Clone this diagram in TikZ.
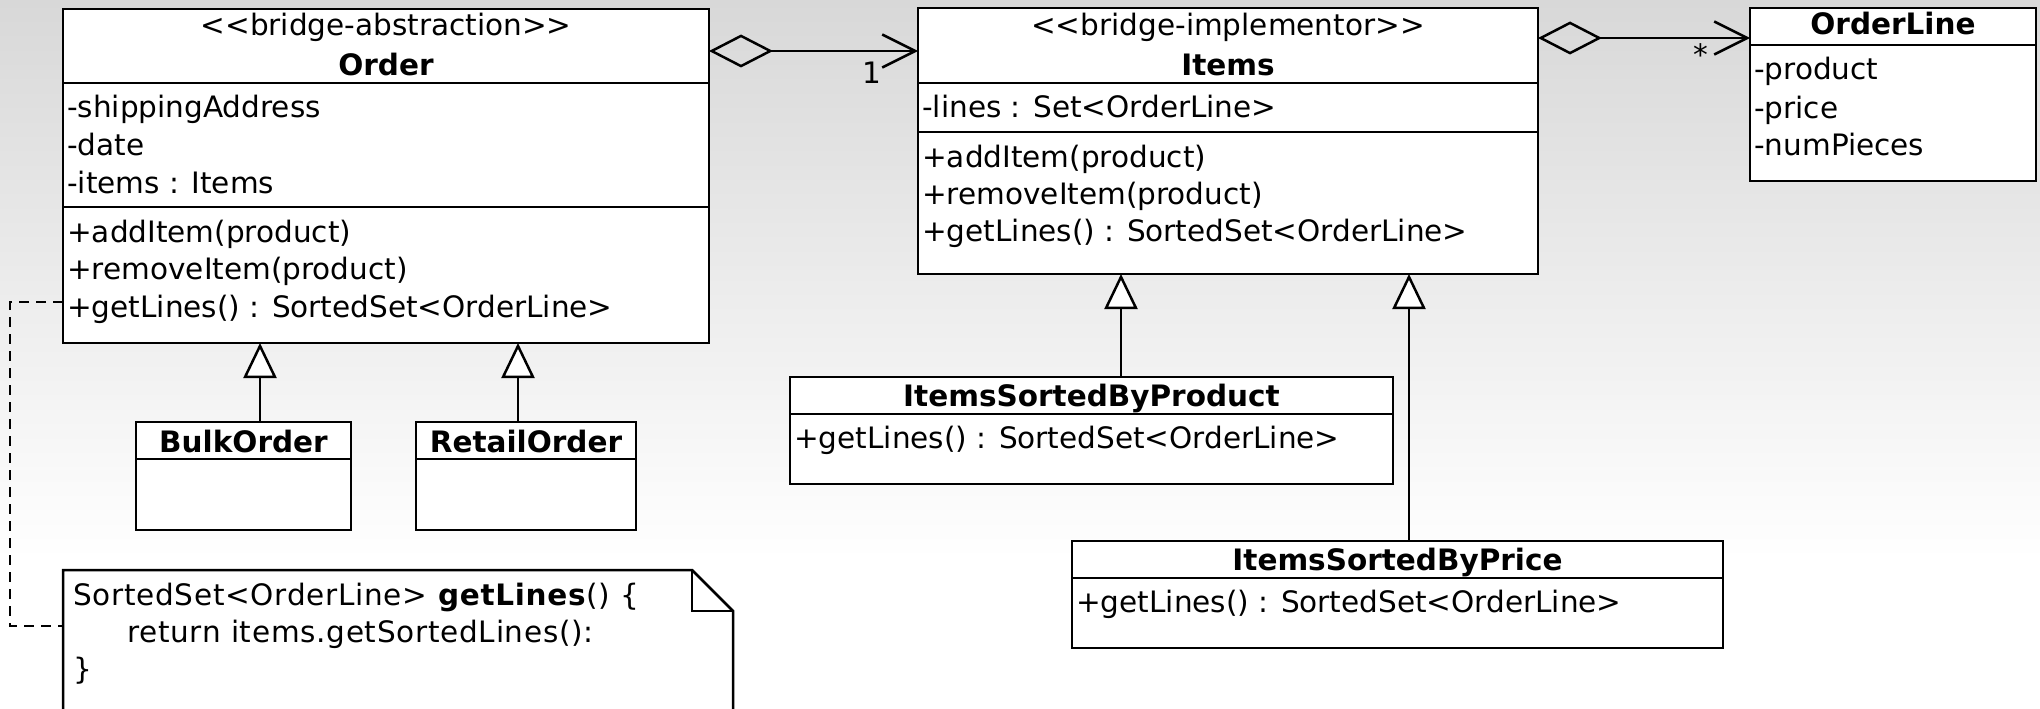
\documentclass[tikz,border=0pt]{standalone}
\usepackage{fontspec}
\setmainfont{DejaVu Sans}
\usetikzlibrary{arrows.meta}
\definecolor{bgtop}{RGB}{216,216,216}
\begin{document}
\begin{tikzpicture}[x=1pt,y=-1pt,line width=2.5pt,
  font=\fontsize{29.5}{36}\selectfont,
  cls/.style={draw=black,fill=white,line width=2.5pt,inner sep=0pt,outer sep=0pt,anchor=north west},
  lbl/.style={anchor=base west,inner sep=0pt},
  ster/.style={anchor=base,inner sep=0pt},
  ttl/.style={anchor=base,inner sep=0pt,font=\fontsize{29.5}{36}\selectfont\bfseries},
  code/.style={anchor=base west,inner sep=0pt,font=\fontsize{29.5}{36}\selectfont\addfontfeature{LetterSpace=2.4}},
  aggr/.style={{Diamond[open,length=64pt,width=33pt]}-{Straight Barb[length=33pt,width=33pt]}},
  gen/.style={-{Triangle[fill=white,length=35pt,width=33pt]}},
  notelink/.style={dash pattern=on 10pt off 7pt}]
\useasboundingbox (0,0) rectangle (2040,709);
\clip (0,0) rectangle (2040,709);
% background
\fill[white] (0,0) rectangle (2040,709);
\shade[top color=bgtop,bottom color=white] (0,0) rectangle (2040,560);

% Order
\node[cls,minimum width=646pt,minimum height=334pt] (order) at (63,9) {};
\draw (order.west |- 0,83) -- (order.east |- 0,83);
\draw (order.west |- 0,207) -- (order.east |- 0,207);
\node[ster] (orderS) at (order.north |- 0,36) {<{}<bridge-abstraction>{}>};
\node[ttl] (orderT) at (order.north |- 0,75) {Order};
\node[lbl] (o1) at (66,117) {-shippingAddress};
\node[lbl] (o2) at (66,155) {-date};
\node[lbl] (o3) at (66,193) {-items : Items};
\node[lbl] (o4) at (66,242) {+addItem(product)};
\node[lbl] (o5) at (66,279) {+removeItem(product)};
\node[lbl] (o6) at (66,317) {+getLines() : SortedSet<OrderLine>};

% Items
\node[cls,minimum width=620pt,minimum height=266pt] (items) at (918,8) {};
\draw (items.west |- 0,83) -- (items.east |- 0,83);
\draw (items.west |- 0,132) -- (items.east |- 0,132);
\node[ster] (itemsS) at (items.north |- 0,36) {<{}<bridge-implementor>{}>};
\node[ttl] (itemsT) at (items.north |- 0,75) {Items};
\node[lbl] (i1) at (921,117) {-lines : Set<OrderLine>};
\node[lbl] (i2) at (921,167) {+addItem(product)};
\node[lbl] (i3) at (921,204) {+removeItem(product)};
\node[lbl] (i4) at (921,241) {+getLines() : SortedSet<OrderLine>};

% OrderLine
\node[cls,minimum width=286pt,minimum height=173pt] (oline) at (1750,8) {};
\draw (oline.west |- 0,45) -- (oline.east |- 0,45);
\node[ttl] (olineT) at (oline.north |- 0,35) {OrderLine};
\node[lbl] (l1) at (1753,80) {-product};
\node[lbl] (l2) at (1753,118) {-price};
\node[lbl] (l3) at (1753,155) {-numPieces};

% BulkOrder and RetailOrder
\node[cls,minimum width=215pt,minimum height=108pt] (bulk) at (136,422) {};
\draw (bulk.west |- 0,459) -- (bulk.east |- 0,459);
\node[ttl] (bulkT) at (bulk.north |- 0,452) {BulkOrder};
\node[cls,minimum width=220pt,minimum height=108pt] (retail) at (416,422) {};
\draw (retail.west |- 0,459) -- (retail.east |- 0,459);
\node[ttl] (retailT) at (retail.north |- 0,452) {RetailOrder};

% ItemsSortedByProduct
\node[cls,minimum width=603pt,minimum height=107pt] (byprod) at (790,377) {};
\draw (byprod.west |- 0,414) -- (byprod.east |- 0,414);
\node[ttl] (byprodT) at (byprod.north |- 0,406) {ItemsSortedByProduct};
\node[lbl] (p1) at (793,448) {+getLines() : SortedSet<OrderLine>};

% ItemsSortedByPrice
\node[cls,minimum width=651pt,minimum height=107pt] (byprice) at (1072,541) {};
\draw (byprice.west |- 0,578) -- (byprice.east |- 0,578);
\node[ttl] (bypriceT) at (byprice.north |- 0,570) {ItemsSortedByPrice};
\node[lbl] (q1) at (1075,612) {+getLines() : SortedSet<OrderLine>};

% note
\node[inner sep=0pt,outer sep=0pt,minimum width=670pt,minimum height=160pt,anchor=north west] (note) at (63,570) {};
\filldraw[fill=white] (note.south west) -- (note.north west) -- ([xshift=-41pt]note.north east)
  -- ([yshift=-41pt]note.north east) -- (note.south east);
\draw[line join=miter] ([xshift=-41pt]note.north east) -- ([xshift=-41pt,yshift=-41pt]note.north east)
  -- ([yshift=-41pt]note.north east);
\node[code] (n1) at (72,605) {SortedSet<OrderLine> \textbf{getLines}() \{};
\node[code] (n2) at (126,642) {return items.getSortedLines():};
\node[code] (n3) at (72,679) {\}};

% associations
\coordinate (a1) at (0,51);
\coordinate (a2) at (0,38);
\draw[aggr] (order.east |- a1) -- (items.west |- a1);
\node[inner sep=0pt] (m1) at (872,73) {1};
\draw[aggr] (items.east |- a2) -- (oline.west |- a2);
\node[inner sep=0pt] (m2) at (1701,55) {*};

% generalizations
\coordinate (g1) at (260,0);
\coordinate (g2) at (518,0);
\coordinate (g3) at (1121,0);
\coordinate (g4) at (1409,0);
\draw[gen] (bulk.north -| g1) -- (order.south -| g1);
\draw[gen] (retail.north -| g2) -- (order.south -| g2);
\draw[gen] (byprod.north -| g3) -- (items.south -| g3);
\draw[gen] (byprice.north -| g4) -- (items.south -| g4);

% note link
\draw[notelink] (order.west |- 0,302) -- ++(-53,0) |- (note.west |- 0,626);
\end{tikzpicture}
\end{document}
